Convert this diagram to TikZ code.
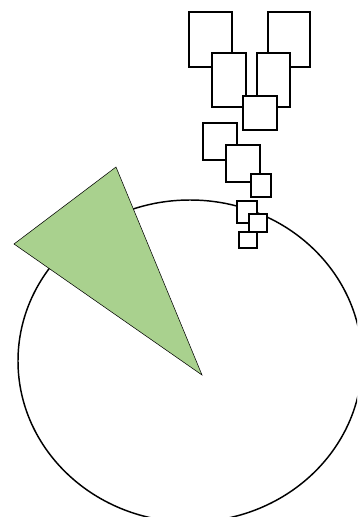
\documentclass[tikz,border=0pt]{standalone}
\usepackage{tikz}
\definecolor{leafgreen}{HTML}{A9D18E}
\begin{document}
\begin{tikzpicture}[x=0.75pt,y=-0.75pt,
  box/.style={draw=black,fill=white,line width=1.1pt},
  ring/.style={draw=black,line width=1.1pt},
  wedge/.style={draw=black,fill=leafgreen,line width=0.4pt}]
  \useasboundingbox (0,0) rectangle (357,517);
  \clip (0,0) rectangle (357,517);
  % big ring and the green wedge over it
  \draw[ring] (190,361) ellipse [x radius=172, y radius=161];
  \draw[wedge] (116,167) -- (14,244) -- (202,375) -- cycle;
  % stack of boxes, drawn top to bottom
  \foreach \xa/\ya/\xb/\yb in {189/12/232/67, 268/12/310/67, 212/53/246/107, 257/53/290/107,
      243/96/277/130, 203/123/237/160, 226/145/260/182, 251/174/271/197,
      237/201/257/223, 249/214/267/232, 239/232/257/248}{
    \draw[box] (\xa,\ya) rectangle (\xb,\yb);
  }
\end{tikzpicture}
\end{document}
